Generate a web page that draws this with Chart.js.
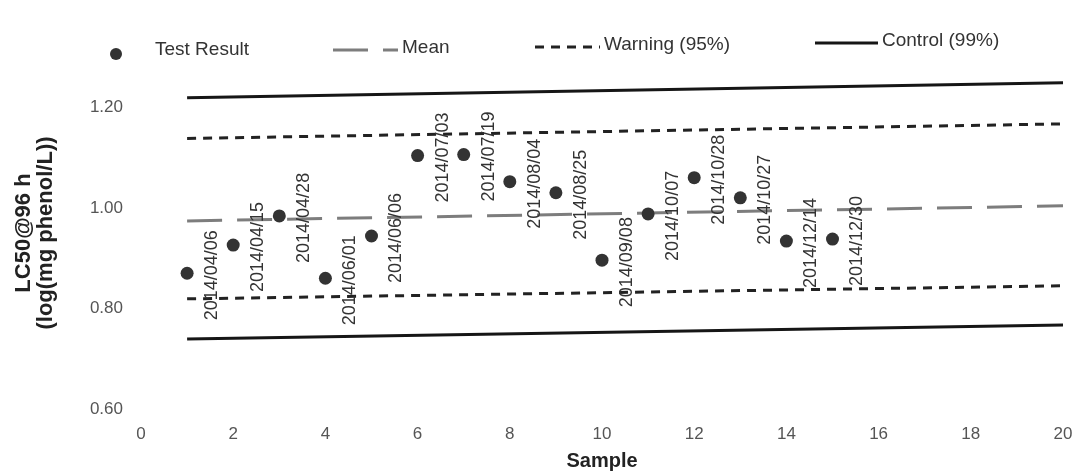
<!DOCTYPE html>
<html>
<head>
<meta charset="utf-8">
<script src="https://cdn.jsdelivr.net/npm/chart.js@4"></script>
<style>
  body { margin: 0; background: #fff; }
  #wrap { width: 1075px; height: 474px; }
</style>
</head>
<body>
<div id="wrap"><canvas id="qcChart" width="1075" height="474"></canvas></div>
<script>
// sample number, LC50 test result and test date
const samples = [1, 2, 3, 4, 5, 6, 7, 8, 9, 10, 11, 12, 13, 14, 15]
const lc50 = [0.870, 0.926, 0.984, 0.860, 0.944, 1.104, 1.106, 1.052, 1.030, 0.896, 0.988, 1.060, 1.020, 0.934, 0.938]
const sampleDates = [
  '2014/04/06', '2014/04/15', '2014/04/28', '2014/06/01', '2014/06/06',
  '2014/07/03', '2014/07/19', '2014/08/04', '2014/08/25', '2014/09/08',
  '2014/10/07', '2014/10/28', '2014/10/27', '2014/12/14', '2014/12/30'
]

// limit lines, value at first and last sample
const lineSamples = [1, 20]
const meanLine = [0.974, 1.004]
const warningUpper = [1.138, 1.167]
const warningLower = [0.819, 0.845]
const controlUpper = [1.219, 1.249]
const controlLower = [0.739, 0.767]

const yTicks = [0.6, 0.8, 1.0, 1.2]
const xTicks = [0, 2, 4, 6, 8, 10, 12, 14, 16, 18, 20]

const FONT = "'Liberation Sans', Arial, Helvetica, sans-serif"

const toPoints = (xs, ys) => xs.map((x, i) => ({ x: x, y: ys[i] }))

function limitLine(label, values, color, dash, width) {
  return {
    label: label,
    data: toPoints(lineSamples, values),
    showLine: true,
    borderColor: color,
    backgroundColor: color,
    borderDash: dash,
    borderWidth: width,
    pointRadius: 0,
    borderCapStyle: 'butt'
  }
}

// date labels, rotated, to the right of each point
const dateLabels = {
  id: 'dateLabels',
  afterDatasetsDraw(chart) {
    const ctx = chart.ctx
    const meta = chart.getDatasetMeta(0)
    ctx.save()
    ctx.font = `18px ${FONT}`
    ctx.fillStyle = '#333'
    ctx.textAlign = 'center'
    ctx.textBaseline = 'middle'
    meta.data.forEach((pt, i) => {
      ctx.save()
      ctx.translate(pt.x + 25, pt.y + 2)
      ctx.rotate(-Math.PI / 2)
      ctx.fillText(sampleDates[i], 0, 0)
      ctx.restore()
    })
    ctx.restore()
  }
}

// legend laid out like the original sheet (only the first four series)
const legendSpots = [
  { x: 110, y: 52, w: 0 },
  { x: 333, y: 50, w: 65 },
  { x: 535, y: 47, w: 65 },
  { x: 815, y: 43, w: 63 }
]
const sheetLegend = {
  id: 'sheetLegend',
  afterDraw(chart) {
    const ctx = chart.ctx
    ctx.save()
    ctx.font = `19px ${FONT}`
    ctx.textBaseline = 'middle'
    legendSpots.forEach((s, i) => {
      const ds = chart.data.datasets[i]
      let textX
      if (i === 0) {
        ctx.fillStyle = ds.backgroundColor
        ctx.beginPath()
        ctx.arc(s.x + 6, s.y + 2, 6, 0, Math.PI * 2)
        ctx.fill()
        textX = s.x + 45
      } else {
        ctx.strokeStyle = ds.borderColor
        ctx.lineWidth = ds.borderWidth
        ctx.setLineDash(ds.borderDash || [])
        ctx.beginPath()
        ctx.moveTo(s.x, s.y)
        ctx.lineTo(s.x + s.w, s.y)
        ctx.stroke()
        ctx.setLineDash([])
        textX = s.x + s.w + 4
      }
      ctx.fillStyle = '#333'
      ctx.textAlign = 'left'
      ctx.fillText(ds.label, textX, s.y - 2)
    })
    ctx.restore()
  }
}

new Chart(document.getElementById('qcChart'), {
  type: 'scatter',
  data: {
    datasets: [
      {
        label: 'Test Result',
        data: toPoints(samples, lc50),
        backgroundColor: '#333',
        borderWidth: 0,
        pointRadius: 6.5,
        pointHoverRadius: 6.5
      },
      limitLine('Mean', meanLine, '#7d7d7d', [35, 15], 3),
      limitLine('Warning (95%)', warningUpper, '#222', [9, 7], 3),
      limitLine('Control (99%)', controlUpper, '#161616', [], 3),
      limitLine('Warning lower', warningLower, '#222', [9, 7], 3),
      limitLine('Control lower', controlLower, '#161616', [], 3)
    ]
  },
  options: {
    responsive: false,
    animation: false,
    devicePixelRatio: 1,
    layout: { padding: { left: 0, right: 0, top: 57, bottom: 0 } },
    plugins: {
      legend: { display: false },
      tooltip: { enabled: false }
    },
    scales: {
      x: {
        type: 'linear',
        min: 0,
        max: 20,
        grid: { display: false, drawTicks: false },
        border: { display: false },
        afterFit: (scale) => { scale.height = 65; scale.paddingRight = 12 },
        afterBuildTicks: (scale) => { scale.ticks = xTicks.map(v => ({ value: v })) },
        ticks: {
          padding: 15,
          color: '#555',
          font: { family: FONT, size: 17 },
          maxRotation: 0
        },
        title: {
          display: true,
          text: 'Sample',
          color: '#222',
          padding: { top: 0, bottom: 1 },
          font: { family: FONT, size: 20, weight: 'bold', lineHeight: 1.2 }
        }
      },
      y: {
        min: 0.6,
        max: 1.3,
        grid: { display: false, drawTicks: false },
        border: { display: false },
        afterFit: (scale) => { scale.width = 141 },
        afterBuildTicks: (scale) => { scale.ticks = yTicks.map(v => ({ value: v })) },
        ticks: {
          padding: 18,
          color: '#555',
          font: { family: FONT, size: 17 },
          callback: (v) => Number(v).toFixed(2)
        },
        title: {
          display: true,
          text: ['LC50@96 h', '(log(mg phenol/L))'],
          color: '#222',
          padding: { top: 13, bottom: 0 },
          font: { family: FONT, size: 22, weight: 'bold', lineHeight: 1.0 }
        }
      }
    }
  },
  plugins: [dateLabels, sheetLegend]
})
</script>
</body>
</html>
